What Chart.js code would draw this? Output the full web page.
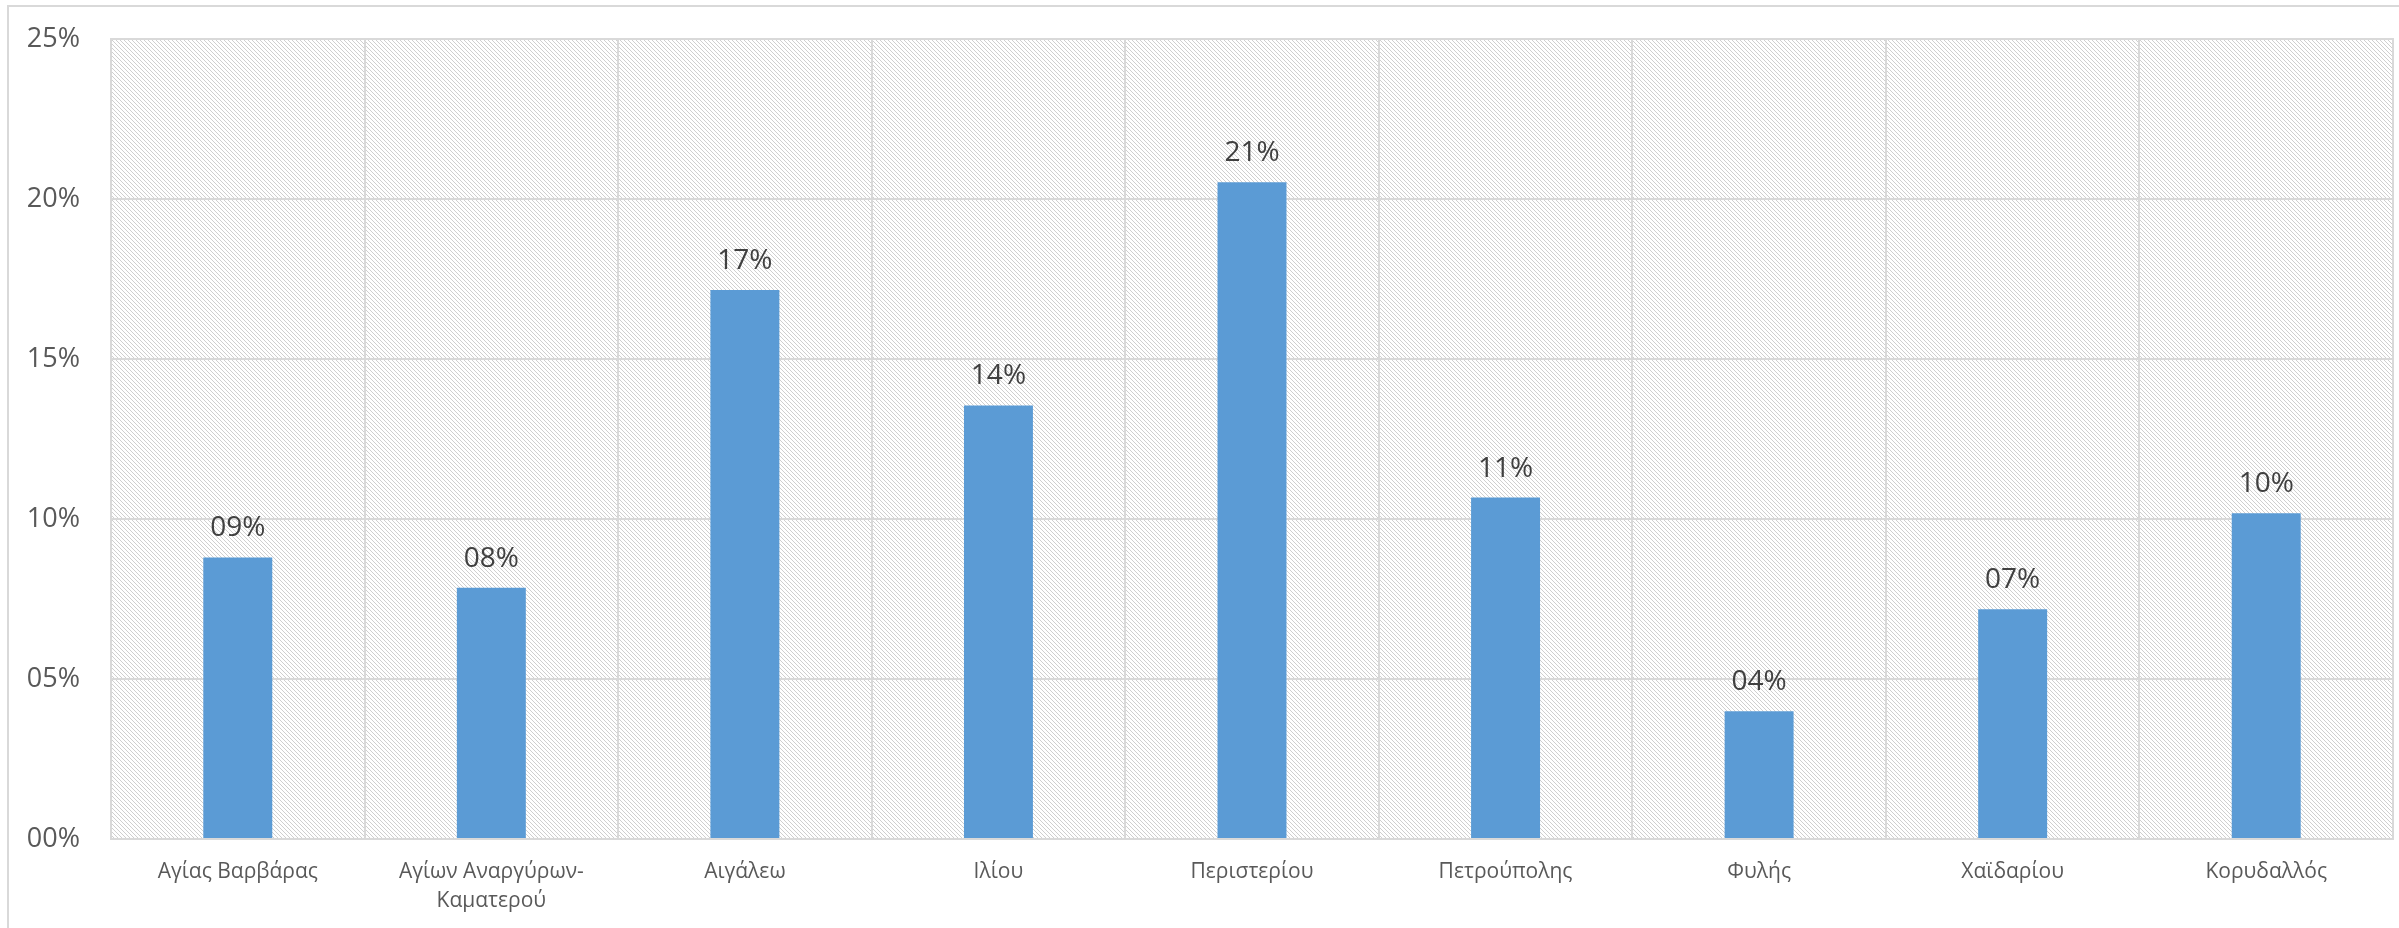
<!DOCTYPE html>
<html>
<head>
<meta charset="utf-8">
<script src="https://cdn.jsdelivr.net/npm/chart.js@4/dist/chart.umd.min.js"></script>
<style>
  html, body { margin: 0; padding: 0; background: #ffffff; }
  #wrap { width: 2399px; height: 928px; position: relative; }
</style>
</head>
<body>
<div id="wrap"><canvas id="c" width="2399" height="928"></canvas></div>
<script>
const categories = [
  'Αγίας Βαρβάρας',
  ['Αγίων Αναργύρων-', 'Καματερού'],
  'Αιγάλεω',
  'Ιλίου',
  'Περιστερίου',
  'Πετρούπολης',
  'Φυλής',
  'Χαϊδαρίου',
  'Κορυδαλλός'
];
const shares = [8.8, 7.85, 17.16, 13.55, 20.52, 10.67, 3.99, 7.18, 10.18];
const yTicks = [0, 5, 10, 15, 20, 25];

const FONT = "'Open Sans', 'DejaVu Sans', sans-serif";

function pad2(v) { return String(Math.round(v)).padStart(2, '0') + '%'; }

// hatch pattern
function makePattern(ctx) {
  const p = document.createElement('canvas');
  p.width = 4; p.height = 4;
  const pc = p.getContext('2d');
  pc.fillStyle = '#ffffff';
  pc.fillRect(0, 0, 4, 4);
  pc.fillStyle = '#cfcfcf';
  for (let x = 0; x < 4; x++) {
    pc.fillRect(x, x, 1, 1);
  }
  return ctx.createPattern(p, 'repeat');
}

const bgPlugin = {
  id: 'bgPlugin',
  beforeDraw(chart) {
    const ctx = chart.ctx;
    const a = chart.chartArea;
    ctx.save();
    ctx.fillStyle = '#ffffff';
    ctx.fillRect(0, 0, chart.width, chart.height);
    ctx.strokeStyle = '#d9d9d9';
    ctx.lineWidth = 2;
    ctx.strokeRect(8, 6, chart.width + 20, chart.height + 20);
    ctx.fillStyle = makePattern(ctx);
    ctx.fillRect(a.left, a.top, a.right - a.left, a.bottom - a.top);
    ctx.restore();
  },
  afterDatasetsDraw(chart) {
    const ctx = chart.ctx;
    const meta = chart.getDatasetMeta(0);
    ctx.save();
    ctx.fillStyle = '#404040';
    ctx.font = '28px ' + FONT;
    ctx.textAlign = 'center';
    ctx.textBaseline = 'middle';
    meta.data.forEach((bar, i) => {
      ctx.fillText(pad2(shares[i]), bar.x, bar.y - 29);
    });
    ctx.restore();
  }
};

new Chart(document.getElementById('c'), {
  type: 'bar',
  data: {
    labels: categories,
    datasets: [{
      data: shares,
      backgroundColor: '#5b9bd5',
      borderWidth: 0,
      categoryPercentage: 1,
      barPercentage: 0.272
    }]
  },
  options: {
    responsive: false,
    animation: false,
    devicePixelRatio: 1,
    layout: { padding: { left: 0, right: 6, top: 39, bottom: 0 } },
    plugins: { legend: { display: false }, tooltip: { enabled: false } },
    scales: {
      x: {
        offset: true,
        grid: { display: true, offset: true, color: '#d9d9d9', lineWidth: 2, drawTicks: false },
        border: { display: true, color: '#d9d9d9', width: 2 },
        ticks: {
          color: '#595959',
          font: { family: FONT, size: 21, lineHeight: 1.35 },
          padding: 19,
          maxRotation: 0,
          autoSkip: false
        },
        afterFit(scale) { scale.height = 89; scale.paddingLeft = 0; scale.paddingRight = 0; }
      },
      y: {
        min: 0,
        max: 25,
        afterBuildTicks(scale) { scale.ticks = yTicks.map(v => ({ value: v })); },
        grid: { color: '#d9d9d9', lineWidth: 2, drawTicks: false },
        border: { display: true, color: '#d9d9d9', width: 2 },
        ticks: {
          color: '#595959',
          font: { family: FONT, size: 27 },
          padding: 31,
          callback: v => pad2(v)
        },
        afterFit(scale) { scale.width = 111; scale.paddingTop = 0; scale.paddingBottom = 0; }
      }
    }
  },
  plugins: [bgPlugin, {
    id: 'rightBorder',
    afterDraw(chart) {
      const a = chart.chartArea, ctx = chart.ctx;
      ctx.save();
      ctx.strokeStyle = '#d9d9d9';
      ctx.lineWidth = 2;
      ctx.strokeRect(a.left, a.top, a.right - a.left, a.bottom - a.top);
      ctx.restore();
    }
  }]
});
</script>
</body>
</html>
